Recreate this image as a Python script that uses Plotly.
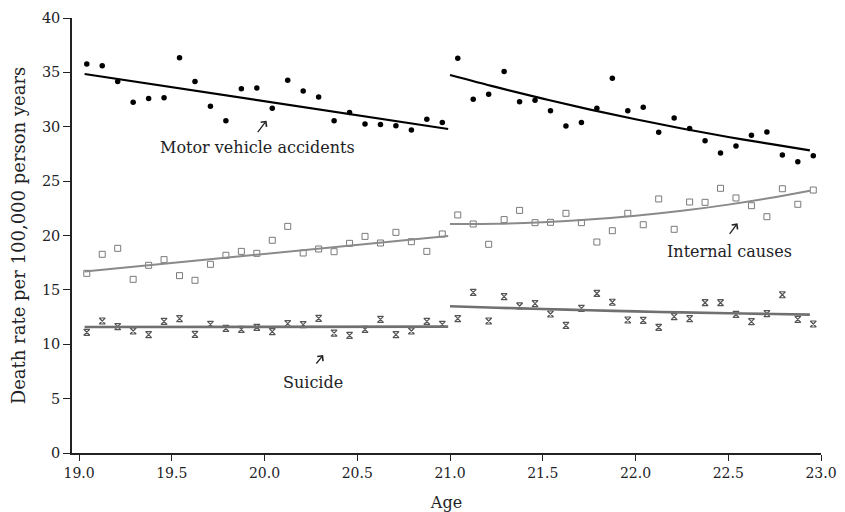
import plotly.graph_objects as go

# ---- data ----
age_left = [19 + (k + 0.5) / 12 for k in range(24)]
age_right = [21 + (k + 0.5) / 12 for k in range(24)]

motor_left = [35.77, 35.6, 34.15, 32.25, 32.6, 32.67, 36.35, 34.15, 31.88, 30.56, 33.5, 33.56,
              31.7, 34.27, 33.29, 32.74, 30.56, 31.3, 30.25, 30.2, 30.1, 29.7, 30.68, 30.4]
motor_right = [36.29, 32.52, 32.98, 35.07, 32.3, 32.43, 31.48, 30.07, 30.38, 31.7, 34.45, 31.48,
               31.79, 29.49, 30.8, 29.85, 28.72, 27.59, 28.23, 29.21, 29.52, 27.4, 26.79, 27.34]

internal_left = [16.52, 18.27, 18.82, 15.97, 17.26, 17.78, 16.31, 15.88, 17.35, 18.18, 18.54, 18.36,
                 19.56, 20.84, 18.39, 18.76, 18.51, 19.28, 19.92, 19.31, 20.29, 19.43, 18.54, 20.14]
internal_right = [21.89, 21.06, 19.19, 21.46, 22.31, 21.18, 21.21, 22.04, 21.18, 19.4, 20.44, 22.04,
                  20.99, 23.36, 20.57, 23.08, 23.05, 24.34, 23.45, 22.74, 21.73, 24.3, 22.87, 24.18]

suicide_left = [11.1, 12.14, 11.62, 11.22, 10.88, 12.11, 12.35, 10.91, 11.83, 11.46, 11.37, 11.56,
                11.16, 11.89, 11.8, 12.38, 11.03, 10.82, 11.37, 12.29, 10.88, 11.22, 12.11, 11.83]
suicide_right = [12.35, 14.77, 12.14, 14.38, 13.52, 13.73, 12.78, 11.74, 13.3, 14.67, 13.86, 12.23,
                 12.2, 11.56, 12.54, 12.35, 13.82, 13.82, 12.75, 12.08, 12.81, 14.55, 12.29, 11.86]

# fitted curves
fit_left_x = [19.03, 20.99]
fit_motor_left = [34.85, 29.79]
fit_internal_left = [16.7, 19.95]
fit_suicide_left = [11.58, 11.62]

fit_right_x = [21.0, 21.25, 21.5, 21.75, 22.0, 22.25, 22.5, 22.75, 22.94]
fit_motor_right = [34.76, 33.64, 32.59, 31.6, 30.69, 29.84, 29.06, 28.35, 27.83]
fit_internal_right = [21.06, 21.08, 21.22, 21.46, 21.81, 22.27, 22.84, 23.52, 24.11]
fit_suicide_right = [13.49, 13.36, 13.24, 13.13, 13.02, 12.93, 12.85, 12.78, 12.72]

x_ticks = [19.0, 19.5, 20.0, 20.5, 21.0, 21.5, 22.0, 22.5, 23.0]
y_ticks = [0, 5, 10, 15, 20, 25, 30, 35, 40]

FONT = "DejaVu Serif"
TXT = "#222226"

fig = go.Figure()

# markers
for xs, ys in [(age_left, motor_left), (age_right, motor_right)]:
    fig.add_trace(go.Scatter(x=xs, y=ys, mode="markers",
                             marker=dict(symbol="circle", size=5.5, color="#000000"),
                             showlegend=False, cliponaxis=False))
for xs, ys in [(age_left, internal_left), (age_right, internal_right)]:
    fig.add_trace(go.Scatter(x=xs, y=ys, mode="markers",
                             marker=dict(symbol="square-open", size=6, color="#7a7a7a",
                                         line=dict(width=1)),
                             showlegend=False, cliponaxis=False))
for xs, ys in [(age_left, suicide_left), (age_right, suicide_right)]:
    fig.add_trace(go.Scatter(x=xs, y=ys, mode="markers",
                             marker=dict(symbol="hourglass-open", size=6, color="#555555",
                                         line=dict(width=1.2)),
                             showlegend=False, cliponaxis=False))

# fitted lines
fig.add_trace(go.Scatter(x=fit_left_x, y=fit_motor_left, mode="lines",
                         line=dict(color="#000000", width=2.2), showlegend=False))
fig.add_trace(go.Scatter(x=fit_right_x, y=fit_motor_right, mode="lines", line_shape="spline",
                         line=dict(color="#000000", width=2.2), showlegend=False))
fig.add_trace(go.Scatter(x=fit_left_x, y=fit_internal_left, mode="lines",
                         line=dict(color="#8a8a8a", width=2), showlegend=False))
fig.add_trace(go.Scatter(x=fit_right_x, y=fit_internal_right, mode="lines", line_shape="spline",
                         line=dict(color="#8a8a8a", width=2), showlegend=False))
fig.add_trace(go.Scatter(x=fit_left_x, y=fit_suicide_left, mode="lines",
                         line=dict(color="#707070", width=2.6), showlegend=False))
fig.add_trace(go.Scatter(x=fit_right_x, y=fit_suicide_right, mode="lines", line_shape="spline",
                         line=dict(color="#707070", width=2.6), showlegend=False))

# annotations: arrows
for hx, hy, ax, ay in [(20.011, 30.56, -10, 13), (22.55, 21.12, -9, 12), (20.316, 9.01, -8, 10)]:
    fig.add_annotation(x=hx, y=hy, ax=ax, ay=ay, text="", showarrow=True,
                       arrowhead=4, arrowsize=1.1, arrowwidth=1.3, arrowcolor="#222222")
# annotations: labels
for tx, ty, label in [(19.961, 28.05, "Motor vehicle accidents"),
                      (22.507, 18.57, "Internal causes"),
                      (20.262, 6.46, "Suicide")]:
    fig.add_annotation(x=tx, y=ty, text=label, showarrow=False,
                       font=dict(family=FONT, size=16, color=TXT))

# the page body adds an 8px offset, so the figure is sized to fit the visible area
fig.update_layout(
    width=837, height=504,
    margin=dict(l=64, r=24, t=10, b=59),
    plot_bgcolor="white", paper_bgcolor="white",
    font=dict(family=FONT, size=14, color=TXT),
    xaxis=dict(range=[18.962, 23.0], tickvals=x_ticks, ticktext=[f"{v:.1f}" for v in x_ticks],
               ticks="outside", ticklen=6, tickwidth=1.2, tickcolor="#222",
               showline=True, linecolor="#222", linewidth=1.5,
               showgrid=False, zeroline=False, automargin=False,
               tickfont=dict(family=FONT, size=14, color=TXT),
               title=dict(text="Age", font=dict(family=FONT, size=16, color=TXT), standoff=20)),
    yaxis=dict(range=[0, 40], tickvals=y_ticks,
               ticks="outside", ticklen=7, tickwidth=1.2, tickcolor="#222",
               showline=True, linecolor="#222", linewidth=1.5,
               showgrid=False, zeroline=False, automargin=False,
               tickfont=dict(family=FONT, size=14.5, color=TXT),
               title=dict(text="Death rate per 100,000 person years",
                          font=dict(family=FONT, size=18, color=TXT), standoff=12)),
)

fig.write_html("out.html")
